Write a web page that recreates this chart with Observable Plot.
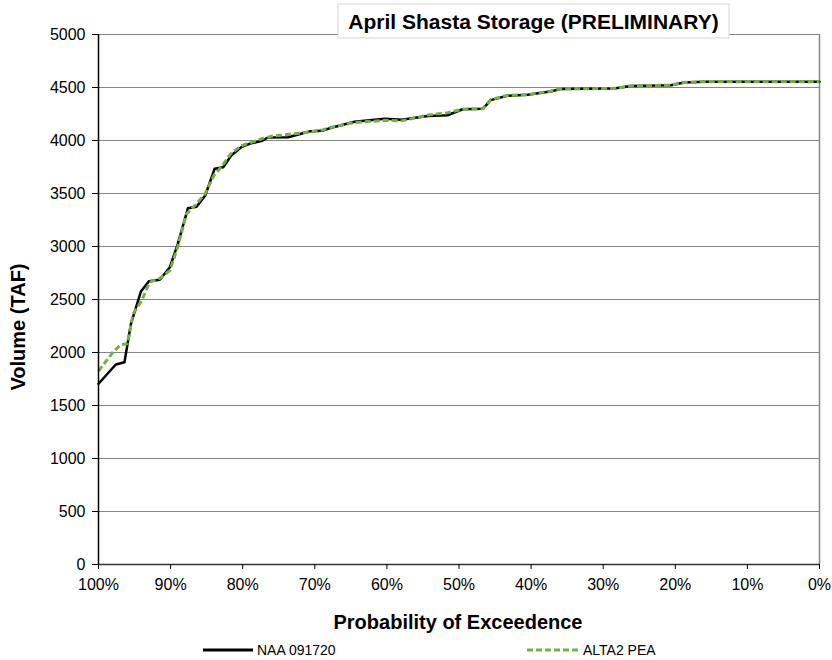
<!DOCTYPE html>
<html>
<head>
<meta charset="utf-8">
<script src="https://cdn.jsdelivr.net/npm/d3@7"></script>
<script src="https://cdn.jsdelivr.net/npm/@observablehq/plot@0.6"></script>
<style>
  html, body { margin: 0; padding: 0; background: #fff; }
  #chart { width: 832px; height: 660px; }
</style>
</head>
<body>
<div id="chart"></div>
<script>
const titleText = "April Shasta Storage (PRELIMINARY)";
const xLabel = "Probability of Exceedence";
const yLabel = "Volume (TAF)";
const seriesNames = ["NAA 091720", "ALTA2 PEA"];
const xTicks = [100, 90, 80, 70, 60, 50, 40, 30, 20, 10, 0];
const yTicks = [0, 500, 1000, 1500, 2000, 2500, 3000, 3500, 4000, 4500, 5000];

// NAA 091720 (black solid)
const naaProb = [100, 97.6, 96.4, 95.5, 94.1, 93, 91.5, 90.1, 89, 87.6, 86.4, 85.2, 83.9, 82.7, 81.6, 80.2, 78.8, 77.4, 76.5, 73.7, 71.9, 70.6, 70, 68.9, 67.7, 64.5, 60.3, 58, 54.3, 51.6, 49.5, 46.7, 45.6, 43.3, 40.5, 37.3, 35.9, 28.5, 26.2, 20.6, 18.8, 16, 0];
const naaVol  = [1705, 1887, 1908, 2270, 2578, 2673, 2686, 2805, 3025, 3360, 3375, 3481, 3733, 3748, 3858, 3937, 3975, 3994, 4028, 4030, 4063, 4088, 4088, 4094, 4120, 4177, 4206, 4195, 4231, 4238, 4295, 4299, 4381, 4422, 4432, 4463, 4485, 4490, 4515, 4522, 4547, 4555, 4555];

// ALTA2 PEA (green dashed)
const altProb = [100, 98, 96.9, 96, 95.2, 94, 92.9, 91.5, 90.1, 89, 87.8, 86.4, 85.2, 84, 83, 81.6, 80.2, 77.4, 76, 73, 71.9, 70, 68.9, 67.7, 64.5, 60.3, 58, 54.3, 51.6, 49.5, 46.7, 45.6, 43.3, 40.5, 37.3, 35.9, 28.5, 26.2, 20.6, 18.8, 16, 0];
const altVol  = [1824, 2003, 2075, 2082, 2365, 2490, 2663, 2700, 2774, 3000, 3308, 3403, 3500, 3670, 3748, 3880, 3950, 4016, 4040, 4063, 4070, 4090, 4100, 4125, 4170, 4190, 4185, 4240, 4262, 4295, 4299, 4385, 4425, 4432, 4465, 4488, 4490, 4515, 4522, 4547, 4555, 4555];

const naa = naaProb.map((p, i) => ({p, v: naaVol[i]}));
const alt = altProb.map((p, i) => ({p, v: altVol[i]}));

const FONT = "'Liberation Sans', Arial, sans-serif";
const GRID = "#868686";
const GREEN = "#74b046";

const plot = Plot.plot({
  width: 832,
  height: 660,
  marginLeft: 98,
  marginRight: 13,
  marginTop: 34,
  marginBottom: 96,
  style: {fontFamily: FONT, fontSize: "16px", color: "#000", background: "#fff"},
  x: {domain: [100, 0], label: null},
  y: {domain: [0, 5000], label: null},
  marks: [
    Plot.gridY(yTicks, {stroke: GRID, strokeOpacity: 1, strokeWidth: 1}),
    Plot.ruleX([0], {stroke: GRID, strokeWidth: 1.5}),
    Plot.line(naa, {x: "p", y: "v", stroke: "#000", strokeWidth: 2.5}),
    Plot.line(alt, {x: "p", y: "v", stroke: GREEN, strokeWidth: 3, strokeDasharray: "6,3", strokeLinecap: "butt"}),
    Plot.ruleX([100], {stroke: "#000", strokeWidth: 1.5}),
    Plot.ruleY([0], {stroke: "#333", strokeWidth: 1.5}),
    Plot.axisX({ticks: xTicks, tickFormat: d => d + "%", tickSize: 5, tickPadding: 9, label: null}),
    Plot.axisY({ticks: yTicks, tickFormat: d => String(d), tickSize: 6, tickPadding: 7, label: null})
  ]
});

document.getElementById("chart").appendChild(plot);

const svg = d3.select(plot);
// Title box
const tg = svg.append("g");
tg.append("rect").attr("x", 338).attr("y", 4).attr("width", 391).attr("height", 34)
  .attr("fill", "#fff").attr("stroke", "#d4d4d4").attr("stroke-width", 1);
tg.append("text").attr("x", 533.5).attr("y", 29).attr("text-anchor", "middle")
  .attr("font-family", FONT).attr("font-weight", "bold").attr("font-size", 21)
  .attr("fill", "#000").text(titleText);

// Axis titles
svg.append("text").attr("x", 458).attr("y", 629).attr("text-anchor", "middle")
  .attr("font-family", FONT).attr("font-weight", "bold").attr("font-size", 20)
  .attr("fill", "#000").text(xLabel);
svg.append("text").attr("transform", "translate(25,327) rotate(-90)").attr("text-anchor", "middle")
  .attr("font-family", FONT).attr("font-weight", "bold").attr("font-size", 20)
  .attr("fill", "#000").text(yLabel);

// Legend
const lg = svg.append("g").attr("font-family", FONT).attr("font-size", 14).attr("fill", "#000")
  .attr("text-anchor", "start");
lg.append("line").attr("x1", 203).attr("x2", 253).attr("y1", 650).attr("y2", 650)
  .attr("stroke", "#000").attr("stroke-width", 3);
lg.append("text").attr("x", 257).attr("y", 650).attr("dy", "0.35em").attr("text-anchor", "start").text(seriesNames[0]);
lg.append("line").attr("x1", 527).attr("x2", 580).attr("y1", 650).attr("y2", 650)
  .attr("stroke", GREEN).attr("stroke-width", 3).attr("stroke-dasharray", "6,3");
lg.append("text").attr("x", 583).attr("y", 650).attr("dy", "0.35em").attr("text-anchor", "start").text(seriesNames[1]);
</script>
</body>
</html>
